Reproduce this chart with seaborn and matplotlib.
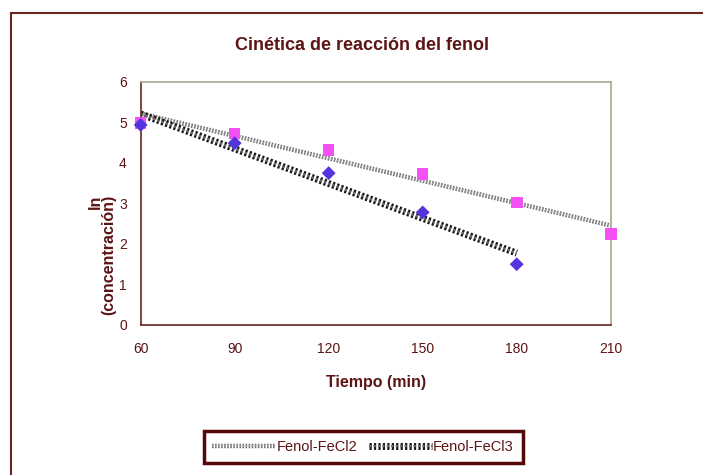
import numpy as np
import pandas as pd
import matplotlib
matplotlib.use("Agg")
import matplotlib.pyplot as plt
import matplotlib.patheffects as pe
from matplotlib.patches import Rectangle
import seaborn as sns

# datos
tiempo_fecl2 = [60, 90, 120, 150, 180, 210]
ln_fecl2 = [4.98, 4.73, 4.32, 3.73, 3.02, 2.25]
tiempo_fecl3 = [60, 90, 120, 150, 180]
ln_fecl3 = [4.94, 4.49, 3.75, 2.78, 1.50]
series = ["Fenol-FeCl2", "Fenol-FeCl3"]
xticks = [60, 90, 120, 150, 180, 210]
yticks = [0, 1, 2, 3, 4, 5, 6]

DARK = "#5c1414"
BORDER = "#6b2424"
PLOT_EDGE = "#aaa592"

df = pd.concat([
    pd.DataFrame({"tiempo": tiempo_fecl2, "ln": ln_fecl2, "serie": series[0]}),
    pd.DataFrame({"tiempo": tiempo_fecl3, "ln": ln_fecl3, "serie": series[1]}),
], ignore_index=True)

sns.set_style("white")
plt.rcParams["font.family"] = ["Liberation Sans", "DejaVu Sans"]

fig = plt.figure(figsize=(7.03, 4.75), dpi=100)
ax = fig.add_axes([0.2001, 0.3158, 0.6686, 0.5116])

# lineas de tendencia (ajuste lineal)
sns.regplot(data=df[df.serie == series[0]], x="tiempo", y="ln", ax=ax,
            scatter=False, ci=None, truncate=True, label=series[0],
            line_kws=dict(color="#a6a6a6", lw=1.1, ls=(0, (1, 1)),
                          path_effects=[pe.Stroke(linewidth=3.2, foreground="#6a6a6a"),
                                        pe.Normal()]))
sns.regplot(data=df[df.serie == series[1]], x="tiempo", y="ln", ax=ax,
            scatter=False, ci=None, truncate=True, label=series[1],
            line_kws=dict(color="#6e6e6e", lw=1.6, ls=(0, (1, 1)),
                          path_effects=[pe.Stroke(linewidth=5, foreground="#161616"),
                                        pe.Normal()]))

# puntos experimentales
sns.scatterplot(data=df[df.serie == series[0]], x="tiempo", y="ln", ax=ax,
                marker="s", s=70, color="#f550f5", edgecolor="none",
                legend=False, zorder=5, clip_on=False)
sns.scatterplot(data=df[df.serie == series[1]], x="tiempo", y="ln", ax=ax,
                marker="D", s=50, color="#5533dd", edgecolor="none",
                legend=False, zorder=5, clip_on=False)

ax.set_xlim(60, 210)
ax.set_ylim(0, 6)
ax.set_xticks(xticks)
ax.set_yticks(yticks)
ax.tick_params(axis="both", colors=DARK, labelsize=10, length=4, width=1,
               direction="out")
ax.tick_params(axis="x", pad=8)
ax.tick_params(axis="y", pad=6)
for s in ["left", "bottom"]:
    ax.spines[s].set_color(BORDER)
    ax.spines[s].set_linewidth(1.2)
for s in ["top", "right"]:
    ax.spines[s].set_color(PLOT_EDGE)
    ax.spines[s].set_linewidth(1.2)

ax.set_xlabel("Tiempo (min)", color=DARK, fontsize=11.5, fontweight="bold", labelpad=14)
ax.set_ylabel("ln\n(concentración)", color=DARK, fontsize=11.5, fontweight="bold",
              multialignment="right", linespacing=0.9)
ax.yaxis.set_label_coords(-0.052, 0.29)

fig.text(362 / 703, 1 - 46 / 475, "Cinética de reacción del fenol", color=DARK,
         fontsize=13, fontweight="bold", ha="center", va="center")

leg = ax.legend(loc="center", bbox_to_anchor=(363 / 703, 1 - 447 / 475),
                bbox_transform=fig.transFigure, ncol=2, frameon=True,
                fancybox=False, framealpha=1, fontsize=10.5, handlelength=4.3,
                handletextpad=0.1, columnspacing=0.8, borderpad=0.6)
leg.get_frame().set_edgecolor("#560808")
leg.get_frame().set_linewidth(2.5)
for t in leg.get_texts():
    t.set_color(DARK)

# borde del área del gráfico
fig.patches.append(Rectangle((11 / 703, -0.5), 1.2, 1 - 13 / 475 + 0.5,
                             transform=fig.transFigure, fill=False,
                             edgecolor=BORDER, lw=1.5, clip_on=False))

fig.savefig("out.png", dpi=100)
